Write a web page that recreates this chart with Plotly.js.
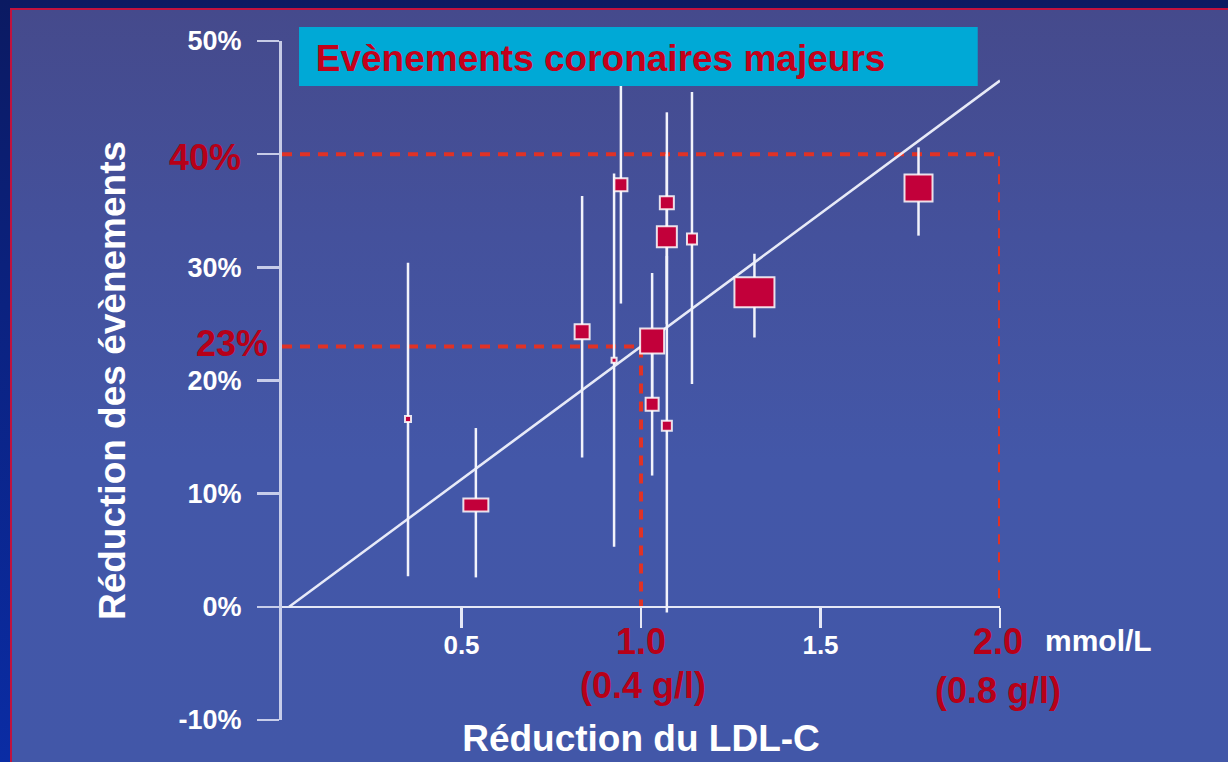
<!DOCTYPE html>
<html>
<head>
<meta charset="utf-8">
<script src="https://cdn.plot.ly/plotly-3.0.1.min.js"></script>
<style>
  html, body { margin: 0; padding: 0; width: 1228px; height: 762px; overflow: hidden; }
  #frame {
    position: absolute; left: 0; top: 0; width: 1228px; height: 762px;
    background: linear-gradient(to bottom, #0b1a62 0%, #0b2280 40%, #0a2ca4 100%);
  }
  #panel {
    position: absolute; left: 10px; top: 8px; right: 0; bottom: 0;
    border-top: 2px solid #c0123e; border-left: 2px solid #c0123e;
    background: linear-gradient(to bottom, #454a8c 0%, #44519c 30%, #4357a8 60%, #4257a8 100%);
  }
  #chart { position: absolute; left: 0; top: 0; width: 1228px; height: 762px; }
</style>
</head>
<body>
<div id="frame"><div id="panel"></div></div>
<div id="chart"></div>
<script>
// LDL-C reduction (mmol/L) and relative reduction of major coronary events (%) per trial
const ldlReduction   = [0.351, 0.540, 0.836, 0.925, 0.944, 1.031, 1.031, 1.072, 1.072, 1.072, 1.142, 1.316, 1.773];
const eventReduction = [16.6,  9.0,   24.3,  21.8,  37.3,  23.5,  17.9,  35.7,  32.7,  16.0,  32.5,  27.8,  37.0];
const ciUpper        = [30.4,  15.8,  36.3,  38.3,  46.5,  29.5,  24.0,  43.7,  40.0,  31.0,  45.5,  31.2,  40.6];
const ciLower        = [2.7,   2.6,   13.2,  5.3,   26.8,  18.0,  11.6,  28.0,  25.0,  -0.5,  19.7,  23.8,  32.8];

// marker box dimensions (px), one per trial
const boxW = [6, 25, 15, 5, 13, 24, 13, 14, 20, 10, 10, 40, 28];
const boxH = [6, 13, 15, 5, 13, 25, 13, 13, 21, 10, 11, 30, 27];

// fitted regression line
const fitX = [0.02, 2.0];
const fitY = [0, 46.5];

// highlighted reference points: LDL reduction -> event reduction
const refX = [1.0, 2.0];
const refY = [23, 40];
const refXLabel = ['1.0', '2.0'];
const refXSub = ['(0.4 g/l)', '(0.8 g/l)'];
const refYLabel = ['23%', '40%'];

// axis ticks
const yTicks = [-10, 0, 10, 20, 30, 40, 50];
const yTickText = ['-10%', '0%', '10%', '20%', '30%', '', '50%'];
const xTicks = [0.5, 1.0, 1.5, 2.0];
const xTickText = ['0.5', '', '1.5', ''];

const RED = '#b70018';
const DASH_RED = '#e03226';
const WHITE = '#f2f3fb';
const AXIS = 'rgba(222,226,246,0.85)';
const SANS = '"Liberation Sans", Arial, sans-serif';

const traces = [];

// dashed guides from each reference point to both axes
refX.forEach((rx, i) => {
  traces.push({
    x: [0, rx, rx], y: [refY[i], refY[i], 0],
    mode: 'lines', hoverinfo: 'skip', showlegend: false,
    line: { color: DASH_RED, width: 4, dash: '10px,8px' }
  });
});

// confidence intervals
traces.push({
  x: ldlReduction, y: eventReduction,
  mode: 'markers', showlegend: false,
  marker: { size: 4, opacity: 0 },
  error_y: {
    type: 'data', symmetric: false,
    array: eventReduction.map((v, i) => ciUpper[i] - v),
    arrayminus: eventReduction.map((v, i) => v - ciLower[i]),
    color: WHITE, thickness: 2.5, width: 0
  },
  cliponaxis: false
});

// regression line
traces.push({
  x: fitX, y: fitY, mode: 'lines', hoverinfo: 'skip', showlegend: false,
  line: { color: 'rgba(240,242,252,0.95)', width: 2.5 }
});

// trial boxes, anchored on each point and sized in pixels
const shapes = ldlReduction.map((x, i) => ({
  type: 'rect', layer: 'above',
  xref: 'x', yref: 'y',
  xsizemode: 'pixel', ysizemode: 'pixel',
  xanchor: x, yanchor: eventReduction[i],
  x0: -boxW[i] / 2, x1: boxW[i] / 2,
  y0: -boxH[i] / 2, y1: boxH[i] / 2,
  fillcolor: '#c2003a',
  line: { color: 'rgba(255,255,255,0.85)', width: 2 }
}));

// heading band
shapes.push({
  type: 'rect', layer: 'above', xref: 'paper', yref: 'paper',
  x0: 0.0237, x1: 0.969, y0: 0.9337, y1: 1.0206,
  fillcolor: '#00a9d6', line: { width: 0 }
});

const annotations = [];
refY.forEach((ry, i) => {
  annotations.push({
    text: '<b>' + refYLabel[i] + '</b>', xref: 'x', yref: 'y', x: 0, y: ry,
    xanchor: 'right', yanchor: 'middle', showarrow: false,
    xshift: i === 0 ? -12 : -39, yshift: i === 0 ? 3 : -3,
    font: { family: SANS, size: 36, color: RED }
  });
});
refX.forEach((rx, i) => {
  annotations.push({
    text: '<b>' + refXLabel[i] + '</b>', xref: 'x', yref: 'y', x: rx, y: 0,
    xanchor: 'center', yanchor: 'middle', showarrow: false,
    xshift: i === 0 ? 0 : -2, yshift: -35,
    font: { family: SANS, size: 36, color: RED }
  });
  annotations.push({
    text: '<b>' + refXSub[i] + '</b>', xref: 'x', yref: 'y', x: rx, y: 0,
    xanchor: 'center', yanchor: 'middle', showarrow: false,
    xshift: i === 0 ? 2 : -2, yshift: i === 0 ? -79 : -84,
    font: { family: SANS, size: 36, color: RED }
  });
});
annotations.push({
  text: '<b>mmol/L</b>', xref: 'x', yref: 'y', x: 2.0, y: 0,
  xanchor: 'left', yanchor: 'middle', showarrow: false,
  xshift: 43, yshift: -34,
  font: { family: SANS, size: 30, color: '#ffffff' }
});

const layout = {
  width: 1228, height: 762,
  margin: { l: 282, r: 228, t: 41, b: 42 },
  paper_bgcolor: 'rgba(0,0,0,0)',
  plot_bgcolor: 'rgba(0,0,0,0)',
  showlegend: false,
  title: {
    text: '<b>Evènements coronaires majeurs</b>',
    xref: 'paper', yref: 'paper', x: 0.047, xanchor: 'left', y: 0.975, yanchor: 'middle',
    font: { family: SANS, size: 37, color: '#c4001a' }
  },
  xaxis: {
    range: [0, 2], anchor: 'free', position: 1 / 6,
    showgrid: false, zeroline: false,
    showline: true, linecolor: 'rgba(238,240,250,0.95)', linewidth: 2.5,
    ticks: 'outside', ticklen: 20, tickwidth: 2.5, tickcolor: 'rgba(238,240,250,0.95)',
    tickvals: xTicks, ticktext: xTickText, ticklabelstandoff: -6,
    tickfont: { family: SANS, size: 26, color: '#ffffff', weight: 'bold' },
    title: {
      text: '<b>Réduction du LDL-C</b>', standoff: 66,
      font: { family: SANS, size: 37, color: '#ffffff' }
    },
    fixedrange: true
  },
  yaxis: {
    range: [-10, 50],
    showgrid: false, zeroline: false,
    showline: true, linecolor: AXIS, linewidth: 3,
    ticks: 'outside', ticklen: 22, tickwidth: 2.5, tickcolor: AXIS,
    tickvals: yTicks, ticktext: yTickText, ticklabelstandoff: 10,
    tickfont: { family: SANS, size: 27, color: '#ffffff', weight: 'bold' },
    title: {
      text: '<b>Réduction des évènements</b>', standoff: 42,
      font: { family: SANS, size: 37, color: '#ffffff' }
    },
    fixedrange: true
  },
  shapes: shapes,
  annotations: annotations
};

Plotly.newPlot('chart', traces, layout, { displayModeBar: false, staticPlot: true });
</script>
</body>
</html>
